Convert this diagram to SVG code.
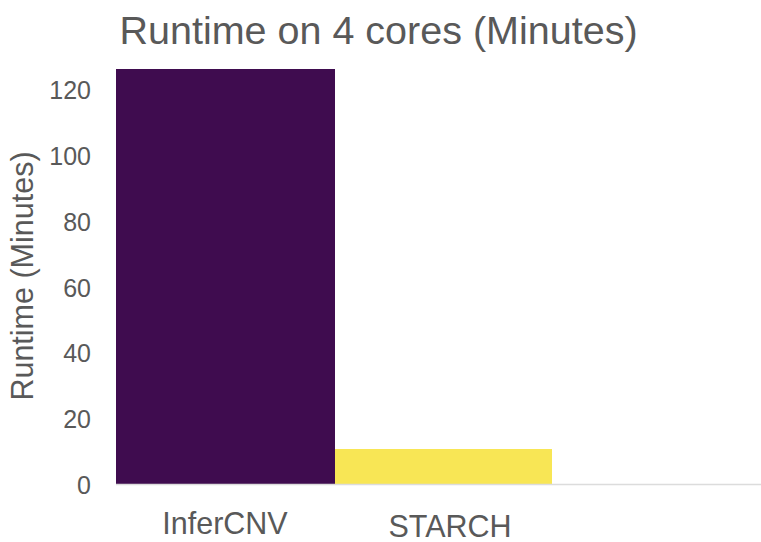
<svg xmlns="http://www.w3.org/2000/svg" width="761" height="542" viewBox="0 0 761 542">
<style>
text{font-family:"Liberation Sans",Arial,Helvetica,sans-serif;fill:#595959}
.tick{font-size:25px;text-anchor:end}
.xl{font-size:30.5px;text-anchor:middle}
</style>
<rect width="761" height="542" fill="#ffffff"/>
<g id="title"><text x="378.5" y="44" font-size="39.5" text-anchor="middle">Runtime on 4 cores (Minutes)</text></g>
<g id="y-axis-label"><text transform="translate(33,276) rotate(-90)" font-size="30.5" text-anchor="middle">Runtime (Minutes)</text></g>
<g id="y-ticks">
<text class="tick" x="91" y="494">0</text>
<text class="tick" x="91" y="428.2">20</text>
<text class="tick" x="91" y="362.3">40</text>
<text class="tick" x="91" y="296.5">60</text>
<text class="tick" x="91" y="230.7">80</text>
<text class="tick" x="91" y="164.8">100</text>
<text class="tick" x="91" y="99">120</text>
</g>
<g id="bar-infercnv"><rect x="116" y="69" width="219" height="415" fill="#3f0c4f"/></g>
<g id="bar-starch"><rect x="335" y="449" width="217" height="35" fill="#f8e655"/></g>
<g id="connectors"><line x1="116" y1="484.5" x2="761" y2="484.5" stroke="#dcdcdc" stroke-width="1.5"/></g>
<g id="x-labels">
<text class="xl" x="225" y="534">InferCNV</text>
<text class="xl" x="450" y="537">STARCH</text>
</g>
</svg>
